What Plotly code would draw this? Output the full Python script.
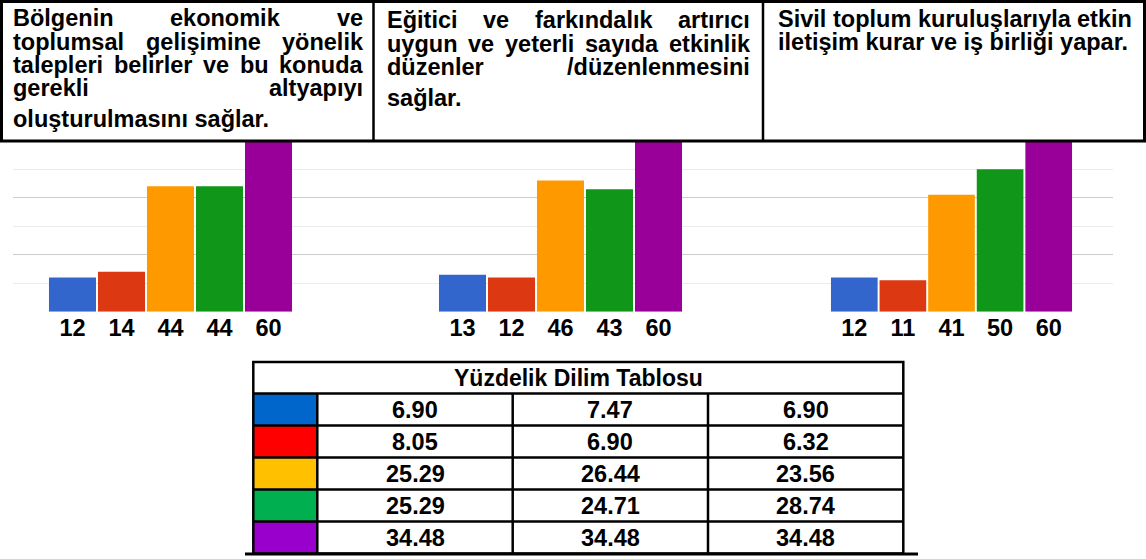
import plotly.graph_objects as go

W, H = 1146, 559
FONT = "Liberation Sans, Arial, sans-serif"

# Five answer options and the number of responses per statement
options = ["1", "2", "3", "4", "5"]
counts_s1 = [12, 14, 44, 44, 60]
counts_s2 = [13, 12, 46, 43, 60]
counts_s3 = [12, 11, 41, 50, 60]
bar_colors = ["#3366cc", "#dc3912", "#ff9900", "#109618", "#990099"]

# Percentage table (one column per statement)
table_title = "Yüzdelik Dilim Tablosu"
pct_s1 = [6.90, 8.05, 25.29, 25.29, 34.48]
pct_s2 = [7.47, 6.90, 26.44, 24.71, 34.48]
pct_s3 = [6.90, 6.32, 23.56, 28.74, 34.48]
swatch_colors = ["#0066cc", "#ff0000", "#ffc000", "#00b050", "#9900cc"]

# Statement texts, line by line
statement_1 = ["Bölgenin ekonomik ve", "toplumsal gelişimine yönelik",
               "talepleri belirler ve bu konuda", "gerekli altyapıyı",
               "oluşturulmasını sağlar."]
statement_2 = ["Eğitici ve farkındalık artırıcı", "uygun ve yeterli sayıda etkinlik",
               "düzenler /düzenlenmesini", "sağlar."]
statement_3 = ["Sivil toplum kuruluşlarıyla etkin", "iletişim kurar ve iş birliği yapar."]


def px(x):
    return x / W


def py(y):
    return 1 - y / H


# Arial Bold advance widths (1/1000 em) for justified text layout
ADV = {
    "a": 556, "b": 611, "c": 556, "d": 611, "e": 556, "f": 333, "g": 611, "h": 611,
    "i": 278, "j": 278, "k": 556, "l": 278, "m": 889, "n": 611, "o": 611, "p": 611,
    "q": 611, "r": 389, "s": 556, "t": 333, "u": 611, "v": 556, "w": 778, "x": 556,
    "y": 556, "z": 500, "ı": 278, "ş": 556, "ğ": 611, "ö": 611, "ü": 611, "ç": 556,
    "B": 722, "E": 667, "S": 667, ".": 278, "/": 278, " ": 278,
}


def text_w(s, size):
    return sum(ADV.get(c, 556) for c in s) * size / 1000


fig = go.Figure()

# Bar groups, one x axis per statement, sharing one y axis
groups = [(counts_s1, "x2", (48, 293)), (counts_s2, "x3", (438, 683)),
          (counts_s3, "x4", (830, 1073))]
for vals, xa, _ in groups:
    fig.add_trace(go.Bar(x=options, y=vals, xaxis=xa, yaxis="y",
                         marker=dict(color=bar_colors, line=dict(width=0)),
                         showlegend=False, hoverinfo="skip"))
# empty trace so the full-width grid subplot exists
fig.add_trace(go.Scatter(x=[], y=[], xaxis="x", yaxis="y", showlegend=False))

layout = dict(
    width=W, height=H, autosize=False,
    margin=dict(l=0, r=0, t=0, b=0),
    paper_bgcolor="white", plot_bgcolor="rgba(0,0,0,0)",
    bargap=0.04,
    font=dict(family=FONT, color="black"),
    xaxis=dict(domain=[px(13), px(1113)], range=[0, 1], visible=False, anchor="y"),
    yaxis=dict(domain=[py(311.7), py(140.7)], range=[0, 60], anchor="x",
               tickmode="array", tickvals=[20, 40], showticklabels=False,
               showgrid=True, gridcolor="#cccccc", gridwidth=1, zeroline=False,
               showline=False, ticks="",
               minor=dict(tickmode="array", tickvals=[10, 30, 50], showgrid=True,
                          gridcolor="#ebebeb", gridwidth=1, ticks="")),
)
for vals, xa, (x0, x1) in groups:
    key = "xaxis" + xa[1:]
    layout[key] = dict(domain=[px(x0), px(x1)], anchor="y", type="category",
                       range=[-0.5, 4.5], tickmode="array", tickvals=options,
                       ticktext=[str(v) for v in vals], ticks="", showgrid=False,
                       showline=False, zeroline=False,
                       tickfont=dict(size=23.5, family=FONT, color="black",
                                     weight="bold"))
fig.update_layout(**layout)

shapes = []
ann = []
LINE = dict(color="black", width=3)

# Statement header frame
shapes.append(dict(type="rect", xref="paper", yref="paper", x0=px(1.5), x1=px(1144.5),
                   y0=py(1.5), y1=py(141), line=LINE, layer="above"))
for xd in (373.5, 763):
    shapes.append(dict(type="line", xref="paper", yref="paper", x0=px(xd), x1=px(xd),
                       y0=py(1.5), y1=py(141), line=dict(color="black", width=2.5)))

# Justified statement texts
SIZE = 23.5
columns = [
    (statement_1, 13, 363, [26.3, 49.7, 73.1, 96.5, 127.3]),
    (statement_2, 387, 750, [28.5, 51.9, 75.3, 106]),
    (statement_3, 778, 1132, [27, 50.4]),
]
for lines, left, right, baselines in columns:
    for i, (line, base) in enumerate(zip(lines, baselines)):
        yc = py(base - 0.3465 * SIZE)
        words = line.split(" ")
        last = i == len(lines) - 1
        if last or len(words) == 1:
            ann.append(dict(text=f"<b>{line}</b>", x=px(left), y=yc, xref="paper",
                            yref="paper", xanchor="left", yanchor="middle",
                            showarrow=False, borderpad=0, borderwidth=0,
                            font=dict(size=SIZE, family=FONT, color="black")))
            continue
        ws = [text_w(w, SIZE) for w in words]
        gap = (right - left - sum(ws)) / (len(words) - 1)
        xpos = left
        for w, wd in zip(words, ws):
            ann.append(dict(text=f"<b>{w}</b>", x=px(xpos), y=yc, xref="paper",
                            yref="paper", xanchor="left", yanchor="middle",
                            showarrow=False, borderpad=0, borderwidth=0,
                            font=dict(size=SIZE, family=FONT, color="black")))
            xpos += wd + gap

# Percentage table
t_left, t_sw, t_right = 253.3, 317.3, 903.3
col_edges = [t_sw, 512.7, 708, t_right]
t_top, t_head = 362, 393.5
row_h = 32
row_edges = [t_head + k * row_h for k in range(len(pct_s1) + 1)]
t_bottom = row_edges[-1]

for k, c in enumerate(swatch_colors):
    shapes.append(dict(type="rect", xref="paper", yref="paper", x0=px(t_left), x1=px(t_sw),
                       y0=py(row_edges[k]), y1=py(row_edges[k + 1]), fillcolor=c,
                       line=dict(width=0), layer="below"))
for yy in row_edges[:-1]:
    shapes.append(dict(type="line", xref="paper", yref="paper", x0=px(t_left), x1=px(t_right),
                       y0=py(yy), y1=py(yy), line=dict(color="black", width=2.5)))
for xx in col_edges[:-1]:
    shapes.append(dict(type="line", xref="paper", yref="paper", x0=px(xx), x1=px(xx),
                       y0=py(t_head), y1=py(t_bottom), line=dict(color="black", width=2.5)))
shapes.append(dict(type="rect", xref="paper", yref="paper", x0=px(t_left), x1=px(t_right),
                   y0=py(t_top), y1=py(t_bottom), line=dict(color="black", width=2.5)))
shapes.append(dict(type="line", xref="paper", yref="paper", x0=px(245), x1=px(918),
                   y0=py(t_bottom + 0.5), y1=py(t_bottom + 0.5),
                   line=dict(color="black", width=3)))

ann.append(dict(text=f"<b>{table_title}</b>", x=px((t_left + t_right) / 2),
                y=py((t_top + t_head) / 2), xref="paper", yref="paper",
                xanchor="center", yanchor="middle", showarrow=False,
                font=dict(size=23, family=FONT, color="black")))
for j, col in enumerate([pct_s1, pct_s2, pct_s3]):
    cx = (col_edges[j] + col_edges[j + 1]) / 2
    for k, v in enumerate(col):
        cy = (row_edges[k] + row_edges[k + 1]) / 2
        ann.append(dict(text=f"<b>{v:.2f}</b>", x=px(cx), y=py(cy), xref="paper",
                        yref="paper", xanchor="center", yanchor="middle",
                        showarrow=False,
                        font=dict(size=SIZE, family=FONT, color="black")))

fig.update_layout(shapes=shapes, annotations=ann)
fig.write_html("out.html")
